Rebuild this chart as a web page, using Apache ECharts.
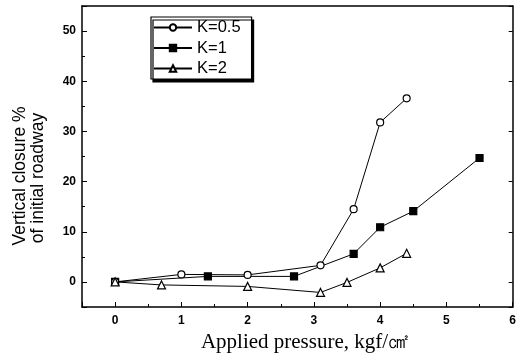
<!DOCTYPE html>
<html><head><meta charset="utf-8">
<script src="https://cdn.jsdelivr.net/npm/echarts@6/dist/echarts.min.js"></script>
<style>html,body{margin:0;padding:0;background:#fff}#c{width:519px;height:359px}</style>
</head><body><div id="c"></div>
<script>
const seriesNames = ['K=0.5', 'K=1', 'K=2'];
const k05 = [[0,0],[1,1.5],[2,1.4],[3.1,3.3],[3.6,14.5],[4,31.8],[4.4,36.6]];
const k1 = [[0,0],[1.4,1.1],[2.7,1.1],[3.6,5.6],[4,10.9],[4.5,14.1],[5.5,24.7]];
const k2 = [[0,0],[0.7,-0.6],[2,-0.9],[3.1,-2.1],[3.5,-0.1],[4,2.8],[4.4,5.7]];
const xTitle = 'Applied pressure, kgf/㎠';
const yTitle1 = 'Vertical closure %';
const yTitle2 = 'of initial roadway';

const chart = echarts.init(document.getElementById('c'), null, {renderer:'canvas'});
const tickFont = {fontFamily:'Liberation Sans, Arial, sans-serif', fontWeight:'bold', fontSize:12, color:'#000'};
const serif = 'Liberation Serif, Times New Roman, serif';
const sans = 'Liberation Sans, Arial, sans-serif';
function mk(name, data, symbol, filled, size){
  return {name, type:'line', data, symbol, symbolSize:size, showSymbol:true,
    lineStyle:{color:'#000', width:1},
    itemStyle:{color: filled ? '#000' : '#fff', borderColor:'#000', borderWidth:1.2},
    emphasis:{disabled:true}, animation:false, z: filled?3:4};
}
chart.setOption({
  animation:false,
  grid:{left:82, right:3, top:6, bottom:52, containLabel:false},
  legend:{
    left:151, top:17, orient:'vertical', itemGap:3.5, itemWidth:38, itemHeight:8,
    padding:[2,11,2,2],
    backgroundColor:'#fff', borderColor:'#000', borderWidth:1.2,
    shadowColor:'#000', shadowBlur:0, shadowOffsetX:2, shadowOffsetY:3,
    textStyle:{fontFamily:sans, fontSize:16.5, color:'#000'},
    data: seriesNames
  },
  xAxis:[{
    type:'value', min:-0.5, max:6, splitNumber:6,
    axisLine:{show:true, onZero:false, lineStyle:{color:'#000', width:1.5}},
    axisTick:{show:true, inside:true, length:5, lineStyle:{color:'#000'}},
    minorTick:{show:true, splitNumber:2, length:3, lineStyle:{color:'#000'}},
    splitLine:{show:false},
    axisLabel:Object.assign({margin:8, showMinLabel:false, formatter:v => (Number.isInteger(v) ? String(v) : '')}, tickFont)
  },{
    type:'value', position:'top', min:-0.5, max:6,
    axisLine:{show:true, onZero:false, lineStyle:{color:'#000', width:1.5}},
    axisTick:{show:false}, axisLabel:{show:false}, splitLine:{show:false}
  }],
  yAxis:[{
    type:'value', min:-5, max:55, splitNumber:6,
    axisLine:{show:true, onZero:false, lineStyle:{color:'#000', width:1.5}},
    axisTick:{show:true, inside:true, length:5, lineStyle:{color:'#000'}},
    minorTick:{show:true, splitNumber:2, length:3, lineStyle:{color:'#000'}},
    splitLine:{show:false},
    axisLabel:Object.assign({margin:6, showMinLabel:false, showMaxLabel:false, formatter:v => (v % 10 === 0 ? String(v) : '')}, tickFont)
  },{
    type:'value', position:'right', min:-5, max:55,
    axisLine:{show:true, onZero:false, lineStyle:{color:'#000', width:1.5}},
    axisTick:{show:true, inside:true, length:4, lineStyle:{color:'#000'}},
    axisLabel:{show:false}, splitLine:{show:false}
  }],
  graphic:[
    {type:'text', x:20, y:176, rotation:Math.PI/2, style:{text:yTitle1, font:'17.5px '+sans, fill:'#000', align:'center', verticalAlign:'middle'}},
    {type:'text', x:38, y:178, rotation:Math.PI/2, style:{text:yTitle2, font:'17.5px '+sans, fill:'#000', align:'center', verticalAlign:'middle'}},
    {type:'text', x:305, y:342, style:{text:xTitle, font:'21px '+serif, fill:'#000', align:'center', verticalAlign:'middle'}}
  ],
  series:[
    mk(seriesNames[0], k05, 'circle', false, 7),
    mk(seriesNames[1], k1, 'rect', true, 7),
    mk(seriesNames[2], k2, 'triangle', false, 8)
  ]
});
</script></body></html>
